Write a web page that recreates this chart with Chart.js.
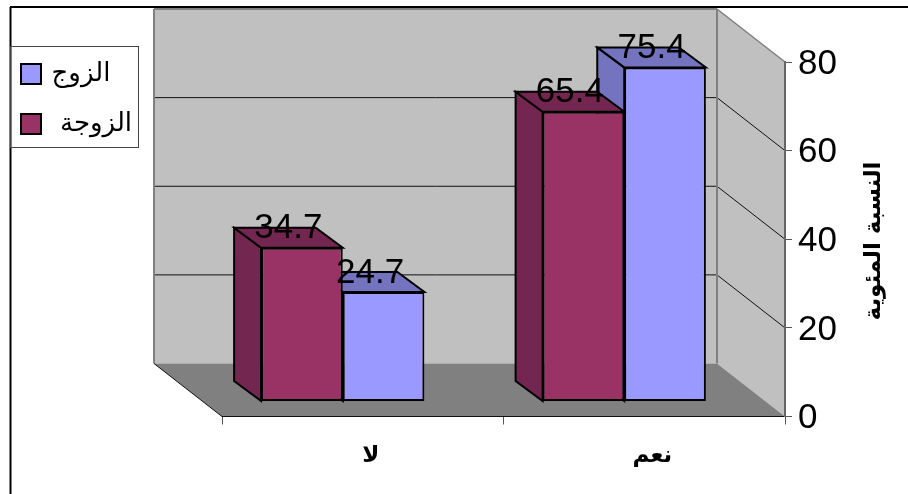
<!DOCTYPE html>
<html lang="ar">
<head>
<meta charset="utf-8">
<title>النسبة المئوية</title>
<script src="https://cdn.jsdelivr.net/npm/chart.js@4/dist/chart.umd.min.js"></script>
<style>
  html, body { margin: 0; background: #fff; }
  canvas { display: block; }
</style>
</head>
<body>
<canvas id="barChart" width="908" height="494"></canvas>
<script>
const categories = ['لا', 'نعم'];
const wifeValues = [34.7, 65.4];
const husbandValues = [24.7, 75.4];
const yTickValues = [0, 20, 40, 60, 80];
const yTitle = 'النسبة المئوية';
const wifeLabel = 'الزوجة';
const husbandLabel = 'الزوج';

const FONT = '"Liberation Sans", Arial, "DejaVu Sans", sans-serif';
const ARABIC_FONT = '"DejaVu Sans", sans-serif';

// depth of the chart box and of the bars, in pixels
const WALL_DX = -68, WALL_DY = -53;
const BAR_SHIFT_X = -20, BAR_SHIFT_Y = -15;
const BAR_DX = -27, BAR_DY = -20;

function poly(ctx, pts, fill, stroke, lw) {
  ctx.beginPath();
  pts.forEach((p, i) => i ? ctx.lineTo(p[0], p[1]) : ctx.moveTo(p[0], p[1]));
  ctx.closePath();
  if (fill) { ctx.fillStyle = fill; ctx.fill(); }
  if (stroke) { ctx.strokeStyle = stroke; ctx.lineWidth = lw; ctx.stroke(); }
}

function line(ctx, x1, y1, x2, y2, color, lw) {
  ctx.beginPath();
  ctx.moveTo(x1, y1);
  ctx.lineTo(x2, y2);
  ctx.strokeStyle = color;
  ctx.lineWidth = lw;
  ctx.stroke();
}

// outer frame, walls and floor
const boxPlugin = {
  id: 'box',
  beforeDraw(chart) {
    const { ctx, chartArea: a, scales } = chart;
    const y = scales.y;
    const top = y.getPixelForValue(80), bottom = y.getPixelForValue(0);
    const bl = a.left + WALL_DX, br = a.right + WALL_DX;
    ctx.save();
    ctx.fillStyle = '#fff';
    ctx.fillRect(0, 0, chart.width, chart.height);
    line(ctx, 10, 7, chart.width, 7, '#000', 2);
    line(ctx, 10.5, 7, 10.5, chart.height, '#000', 2);

    poly(ctx, [[bl, top + WALL_DY], [br, top + WALL_DY], [br, bottom + WALL_DY], [bl, bottom + WALL_DY]], '#c0c0c0');
    poly(ctx, [[br, top + WALL_DY], [a.right, top], [a.right, bottom], [br, bottom + WALL_DY]], '#c0c0c0');
    poly(ctx, [[bl, bottom + WALL_DY], [br, bottom + WALL_DY], [a.right, bottom], [a.left, bottom]], '#808080');

    yTickValues.slice(1, -1).forEach(v => {
      const py = y.getPixelForValue(v);
      line(ctx, bl, py + WALL_DY, br, py + WALL_DY, '#111', 1);
      line(ctx, br, py + WALL_DY, a.right, py, '#111', 1);
    });

    line(ctx, bl, top + WALL_DY, br, top + WALL_DY, '#808080', 2);
    line(ctx, bl, top + WALL_DY, bl, bottom + WALL_DY, '#808080', 2);
    line(ctx, br, top + WALL_DY, br, bottom + WALL_DY, '#808080', 2);
    line(ctx, br, top + WALL_DY, a.right, top, '#808080', 1.5);
    line(ctx, bl, bottom + WALL_DY, a.left, bottom, '#111', 1);
    ctx.restore();
  }
};

// side and top faces of the bars, then the bars themselves shifted into the box
const depthPlugin = {
  id: 'depth',
  beforeDatasetsDraw(chart) {
    const { ctx } = chart;
    ctx.save();
    ctx.translate(BAR_SHIFT_X, BAR_SHIFT_Y);
    for (let d = chart.data.datasets.length - 1; d >= 0; d--) {
      const ds = chart.data.datasets[d];
      chart.getDatasetMeta(d).data.forEach(bar => {
        const { x, y, base, width } = bar.getProps(['x', 'y', 'base', 'width']);
        const l = x - width / 2, r = x + width / 2;
        poly(ctx, [[l, y], [l + BAR_DX, y + BAR_DY], [l + BAR_DX, base + BAR_DY], [l, base]], ds.sideColor, '#000', 2);
        poly(ctx, [[l, y], [r, y], [r + BAR_DX, y + BAR_DY], [l + BAR_DX, y + BAR_DY]], ds.sideColor, '#000', 2);
      });
    }
  },
  afterDatasetsDraw(chart) {
    const { ctx } = chart;
    ctx.restore();

    // value labels sit on the back edge of each top face
    ctx.save();
    ctx.font = '35px ' + FONT;
    ctx.fillStyle = '#000';
    ctx.textAlign = 'center';
    ctx.textBaseline = 'middle';
    chart.data.datasets.forEach((ds, d) => {
      chart.getDatasetMeta(d).data.forEach((bar, i) => {
        const { x, y } = bar.getProps(['x', 'y']);
        ctx.fillText(ds.data[i].toFixed(1), x + BAR_SHIFT_X + BAR_DX / 2, y + BAR_SHIFT_Y + BAR_DY + 1);
      });
    });
    ctx.restore();
  },
  afterDraw(chart) {
    const { ctx } = chart;
    ctx.save();

    // axis title reads bottom to top on the right
    ctx.translate(874, 241);
    ctx.rotate(-Math.PI / 2);
    ctx.direction = 'rtl';
    ctx.font = 'bold 23px ' + ARABIC_FONT;
    ctx.fillStyle = '#000';
    ctx.textAlign = 'center';
    ctx.textBaseline = 'middle';
    ctx.fillText(yTitle, 0, 0);
    ctx.restore();

    // legend box, last series on top
    ctx.save();
    ctx.strokeStyle = '#444';
    ctx.lineWidth = 1;
    ctx.strokeRect(10.5, 46.5, 128, 101);
    ctx.font = '26px ' + ARABIC_FONT;
    ctx.direction = 'rtl';
    ctx.textAlign = 'center';
    ctx.textBaseline = 'middle';
    [...chart.data.datasets].reverse().forEach((ds, i) => {
      const sy = 64 + i * 50;
      ctx.fillStyle = ds.backgroundColor;
      ctx.fillRect(21, sy, 20, 20);
      ctx.strokeStyle = '#000';
      ctx.lineWidth = 2;
      ctx.strokeRect(21, sy, 20, 20);
      ctx.fillStyle = '#000';
      ctx.fillText(ds.label, i ? 96 : 81, sy + 10);
    });
    ctx.restore();
  }
};

new Chart(document.getElementById('barChart'), {
  type: 'bar',
  data: {
    labels: categories,
    datasets: [
      { label: wifeLabel, data: wifeValues, backgroundColor: '#993366', sideColor: '#732650',
        borderColor: '#000', borderWidth: 2, borderSkipped: false, clip: false },
      { label: husbandLabel, data: husbandValues, backgroundColor: '#9999ff', sideColor: '#7373bf',
        borderColor: '#000', borderWidth: 2, borderSkipped: false, clip: false }
    ]
  },
  options: {
    responsive: false,
    animation: false,
    events: [],
    layout: { padding: { left: 222, top: 62, right: 0, bottom: 0 } },
    plugins: { legend: { display: false }, tooltip: { enabled: false } },
    datasets: { bar: { categoryPercentage: 0.58, barPercentage: 1 } },
    scales: {
      x: {
        afterFit(s) { s.height = 77.5; },
        border: { color: '#111', width: 1 },
        grid: { drawOnChartArea: false, color: '#555', tickLength: 8 },
        ticks: {
          color: '#000', padding: 18, labelOffset: 8, maxRotation: 0,
          font: { family: ARABIC_FONT, size: 23, weight: 'bold' }
        }
      },
      y: {
        position: 'right',
        min: 0,
        max: 80,
        afterFit(s) { s.width = 123; },
        afterBuildTicks(s) { s.ticks = yTickValues.map(v => ({ value: v })); },
        border: { color: '#666', width: 2 },
        grid: { drawOnChartArea: false, color: '#555', tickLength: 7 },
        ticks: { color: '#000', padding: 6, labelOffset: 2, font: { family: FONT, size: 35 } }
      }
    }
  },
  plugins: [boxPlugin, depthPlugin]
});
</script>
</body>
</html>
